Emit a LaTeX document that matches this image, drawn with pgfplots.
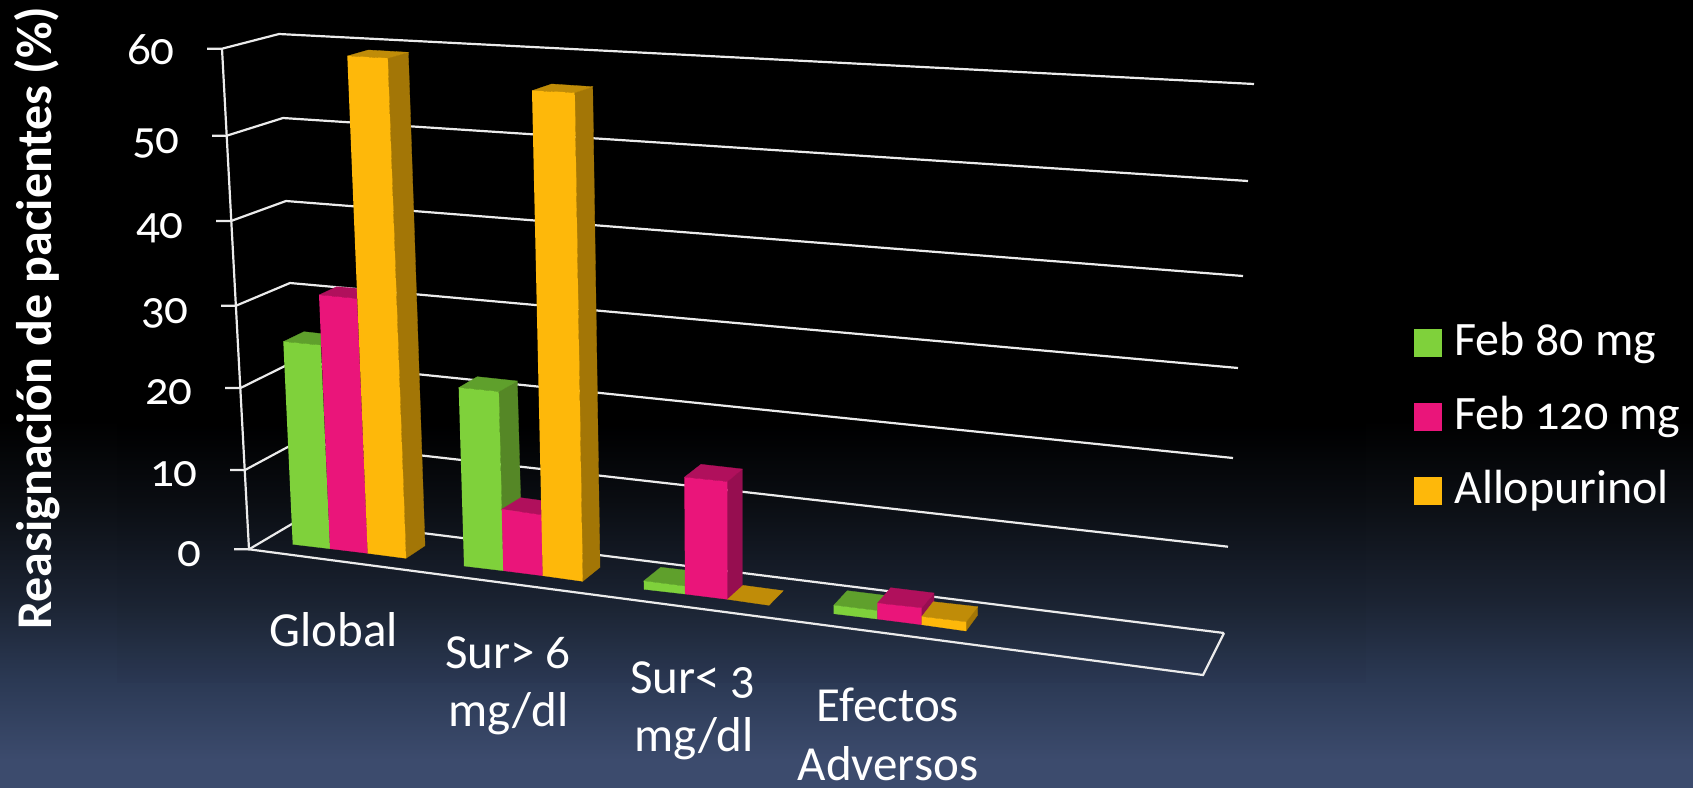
\documentclass[border=0pt]{standalone}
\usepackage{pgfplots}
\usepackage{fontspec}
\pgfplotsset{compat=1.18}
\setmainfont[Numbers=OldStyle]{Carlito}

% Slide background: black upper part fading to slate blue at the bottom
\definecolor{bgA}{HTML}{000000}
\definecolor{bgB}{HTML}{0B0E13}
\definecolor{bgC}{HTML}{1B2332}
\definecolor{bgD}{HTML}{2B3954}
\definecolor{bgE}{HTML}{3C4B6D}
\pgfdeclareverticalshading{slidebg}{100bp}{
  color(0bp)=(bgE); color(26.7bp)=(bgE); color(31.8bp)=(bgD); color(36.9bp)=(bgC);
  color(43.2bp)=(bgB); color(48.3bp)=(bgA); color(75bp)=(bgA); color(100bp)=(bgA)}

\definecolor{gFront}{HTML}{7FD13B}
\definecolor{gTop}{HTML}{5FA02C}
\definecolor{gSide}{HTML}{558726}
\definecolor{pFront}{HTML}{EA157A}
\definecolor{pTop}{HTML}{B0105C}
\definecolor{pSide}{HTML}{960E50}
\definecolor{aFront}{HTML}{FEB80A}
\definecolor{aTop}{HTML}{C08C08}
\definecolor{aSide}{HTML}{A37606}

\pgfplotsset{
  face/.style={fill=#1, draw=#1, line width=0.3pt, mark=none, solid},
  frame/.style={draw=white!92!black, line width=2.2pt, mark=none, line join=miter},
}
\newcommand{\sz}[1]{\fontsize{#1}{#1}\selectfont}

\begin{document}
\begin{tikzpicture}
\begin{axis}[
  scale only axis, width=1693pt, height=787pt,
  xmin=0, xmax=1693, ymin=0, ymax=787, y dir=reverse,
  axis line style={draw=none}, xtick=\empty, ytick=\empty,
  axis background/.style={shading=slidebg},
  clip=false,
]
% Faint darkening behind the chart area
\addplot[fill=black, fill opacity=0.02, draw=none, mark=none] coordinates {(117,420)(1366,420)(1366,683)(117,683)};

% Value scale: tick, front edge, back edge and gridline at each level
\addplot[frame] coordinates {(207,48.7)(222,48.7)(279,34)(1254,84)};
\addplot[frame] coordinates {(212,135.7)(226.7,135.7)(283,118)(1248,181)};
\addplot[frame] coordinates {(216,221)(231,221)(286,201)(1243,276)};
\addplot[frame] coordinates {(221,305.7)(236,305.7)(290,283)(1238,368)};
\addplot[frame] coordinates {(225,388)(240.5,388)(294,361.5)(1233,458)};
\addplot[frame] coordinates {(230,470)(245,470)(298,441.5)(1228,546.7)};
\addplot[frame] coordinates {(234,549.3)(249,549.3)(302,518)(1224,633)};
\addplot[frame] coordinates {(222,48.7)(249,549.3)(1203,675)(1224,633)};

% Global
\addplot[face=gTop] coordinates {(283.3,341.7)(304,331.7)(342,336)(320.7,345.3)};
\addplot[face=gFront] coordinates {(283.3,341.7)(320.7,345.3)(330,548.7)(292.7,544.3)};
\addplot[face=pTop] coordinates {(319,295)(336.7,286.7)(376,290)(357,298.7)};
\addplot[face=pFront] coordinates {(319,295)(357,298.7)(367.7,553.3)(330,548.7)};
\addplot[face=aSide] coordinates {(387.7,58.3)(408.3,52.3)(425,545.7)(406,558.3)};
\addplot[face=aTop] coordinates {(347.3,56)(368.3,50)(408.3,52.3)(387.7,58.3)};
\addplot[face=aFront] coordinates {(347.3,56)(387.7,58.3)(406,558.3)(367.7,553.3)};

% Sur> 6 mg/dl
\addplot[face=gSide] coordinates {(498.7,391.7)(517.3,381)(522.3,558)(503.3,570.7)};
\addplot[face=gTop] coordinates {(458.7,387.7)(477.3,376.7)(517.3,381)(498.7,391.7)};
\addplot[face=gFront] coordinates {(458.7,387.7)(498.7,391.7)(503.3,570.7)(464,566)};
\addplot[face=pTop] coordinates {(501.7,509.3)(520.7,497.7)(560,503)(541.7,515)};
\addplot[face=pFront] coordinates {(501.7,509.3)(541.7,515)(542.7,575.7)(503.3,570.7)};
\addplot[face=aSide] coordinates {(574.7,92.7)(592.7,86.7)(600,567.3)(582.7,581.3)};
\addplot[face=aTop] coordinates {(532,90.7)(551.7,84)(592.7,86.7)(574.7,92.7)};
\addplot[face=aFront] coordinates {(532,90.7)(574.7,92.7)(582.7,581.3)(542.7,575.7)};

% Sur< 3 mg/dl
\addplot[face=gTop] coordinates {(643.7,581)(660.7,567.3)(702,572)(685,586.3)};
\addplot[face=gFront] coordinates {(643.7,581)(685,586.3)(685,594)(644,589.3)};
\addplot[face=pSide] coordinates {(727.3,481.7)(742.3,469)(742.3,588)(727.3,599.3)};
\addplot[face=pTop] coordinates {(684.3,477.3)(701,464.3)(742.3,469)(727.3,481.7)};
\addplot[face=pFront] coordinates {(684.3,477.3)(727.3,481.7)(727.3,599.3)(685,594)};
\addplot[face=aTop] coordinates {(727.3,599.3)(769,605.3)(783.3,590.7)(742.7,585.3)};

% Efectos Adversos
\addplot[face=gTop] coordinates {(833.7,605.3)(847.3,590.7)(890,596)(877.3,610.7)};
\addplot[face=gFront] coordinates {(833.7,605.3)(877.3,610.7)(877.3,619)(833.7,613.7)};
\addplot[face=pSide] coordinates {(921.7,608)(934,593)(934,604)(921.7,624.7)};
\addplot[face=pTop] coordinates {(877.3,603.3)(890.7,587.7)(934,593)(921.7,608)};
\addplot[face=pFront] coordinates {(877.3,603.3)(921.7,608)(921.7,624.7)(877.3,619)};
\addplot[face=aSide] coordinates {(966,622)(977.7,606.7)(977.7,615)(966,631)};
\addplot[face=aTop] coordinates {(921.7,616.7)(933.3,601.7)(977.7,606.7)(966,622)};
\addplot[face=aFront] coordinates {(921.7,616.7)(966,622)(966,631)(921.7,624.7)};

% Legend swatches
\addplot[face=gFront] coordinates {(1414,329)(1441,329)(1441,355.7)(1414,355.7)};
\addplot[face=pFront] coordinates {(1414,403.3)(1441,403.3)(1441,429.7)(1414,429.7)};
\addplot[face=aFront] coordinates {(1414,477)(1441,477)(1441,503.7)(1414,503.7)};

\begin{scope}[every node/.style={text=white, inner sep=0pt, font=\sz{49}}]
% Legend entries
\node[anchor=base west, font=\sz{48}] at (axis cs:1454,355.7) {Feb 80 mg};
\node[anchor=base west, font=\sz{48}] at (axis cs:1454,429.7) {Feb 120 mg};
\node[anchor=base west, font=\sz{48}] at (axis cs:1454,503.7) {Allopurinol};

% Value labels
\node[anchor=base east, font=\sz{47}] at (axis cs:175,64) {60};
\node[anchor=base east, font=\sz{47}] at (axis cs:180,153) {50};
\node[anchor=base east, font=\sz{47}] at (axis cs:184,238) {40};
\node[anchor=base east, font=\sz{47}] at (axis cs:189,323) {30};
\node[anchor=base east, font=\sz{47}] at (axis cs:193,404.3) {20};
\node[anchor=base east, font=\sz{47}] at (axis cs:198,486.7) {10};
\node[anchor=base east, font=\sz{47}] at (axis cs:201.7,566.7) {0};

% Category labels
\node[anchor=base] at (axis cs:334,646) {Global};
\node[anchor=base] at (axis cs:508,668.3) {Sur> 6};
\node[anchor=base] at (axis cs:508.6,726.7) {mg/dl};
\node[anchor=base] at (axis cs:693,693) {Sur< 3};
\node[anchor=base] at (axis cs:694,751) {mg/dl};
\node[anchor=base] at (axis cs:888,721) {Efectos};
\node[anchor=base] at (axis cs:888,780.7) {Adversos};

% Value axis title
\node[anchor=base west, rotate=90, font=\sz{50}\bfseries] at (axis cs:51.7,630) {Reasignación de pacientes (\%)};
\end{scope}
\end{axis}
\end{tikzpicture}
\end{document}
